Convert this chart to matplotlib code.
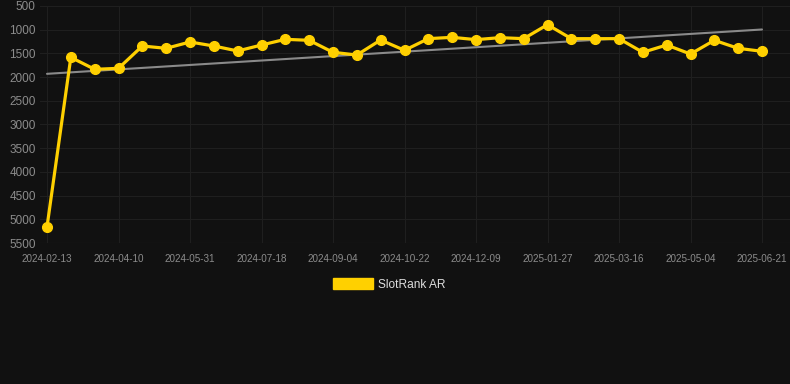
import numpy as np
import matplotlib
matplotlib.use("Agg")
import matplotlib.pyplot as plt
from matplotlib.patches import Patch

plt.rcParams['font.family'] = ['Liberation Sans', 'DejaVu Sans']

dates = ["2024-02-13", "2024-02-29", "2024-03-16", "2024-04-10", "2024-04-26", "2024-05-12",
         "2024-05-31", "2024-06-16", "2024-07-02", "2024-07-18", "2024-08-03", "2024-08-19",
         "2024-09-04", "2024-09-20", "2024-10-06", "2024-10-22", "2024-11-07", "2024-11-23",
         "2024-12-09", "2024-12-25", "2025-01-10", "2025-01-27", "2025-02-12", "2025-02-28",
         "2025-03-16", "2025-04-01", "2025-04-17", "2025-05-04", "2025-05-20", "2025-06-05",
         "2025-06-21"]
rank = [5160, 1583, 1836, 1815, 1344, 1393, 1259, 1344, 1449, 1323, 1203, 1224,
        1477, 1534, 1217, 1435, 1189, 1161, 1210, 1168, 1189, 894, 1189, 1189,
        1189, 1477, 1323, 1513, 1224, 1393, 1456]
y_ticks = [500, 1000, 1500, 2000, 2500, 3000, 3500, 4000, 4500, 5000, 5500]
series_name = "SlotRank AR"

BG = "#111111"
GOLD = "#FFD000"

fig = plt.figure(figsize=(7.9, 3.84), dpi=100, facecolor=BG)
ax = fig.add_axes([40/790, 1-243/384, 750/790, 237/384], facecolor=BG)

x = np.arange(len(rank))
coef = np.polyfit(x, rank, 1)
trend = np.polyval(coef, x[[0, -1]])
ax.plot(x[[0, -1]], trend, color="#8a8a8a", lw=1.5, zorder=2, solid_capstyle="round")
ax.plot(x, rank, color=GOLD, lw=2.3, marker="o", ms=7, zorder=3)

px = (762-47)/30
ax.set_xlim(-7/px, 30 + 28/px)
ax.set_ylim(5500, 500)
ax.set_yticks(y_ticks)
ax.set_yticklabels([str(v) for v in y_ticks])
ax.set_xticks(x[::3])
ax.set_xticklabels(dates[::3])

ax.grid(True, color="#1f1f1f", lw=0.8)
ax.set_axisbelow(True)
for s in ax.spines.values():
    s.set_visible(False)
ax.axhline(5500, color="#2a2a2a", lw=0.8, zorder=1)
ax.tick_params(axis="y", length=0, pad=3, labelsize=8.5, labelcolor="#8c8c8c")
ax.tick_params(axis="x", length=0, pad=8, labelsize=7.1, labelcolor="#8c8c8c")

handle = Patch(facecolor=GOLD, edgecolor=GOLD)
fig.legend([handle], [series_name], loc="center", bbox_to_anchor=(389/790, 1-284.5/384),
           frameon=False, fontsize=8.6, labelcolor="#dddddd", handlelength=3.35,
           handleheight=1.0, handletextpad=0.45)

fig.savefig("out.png", dpi=100, facecolor=BG)
